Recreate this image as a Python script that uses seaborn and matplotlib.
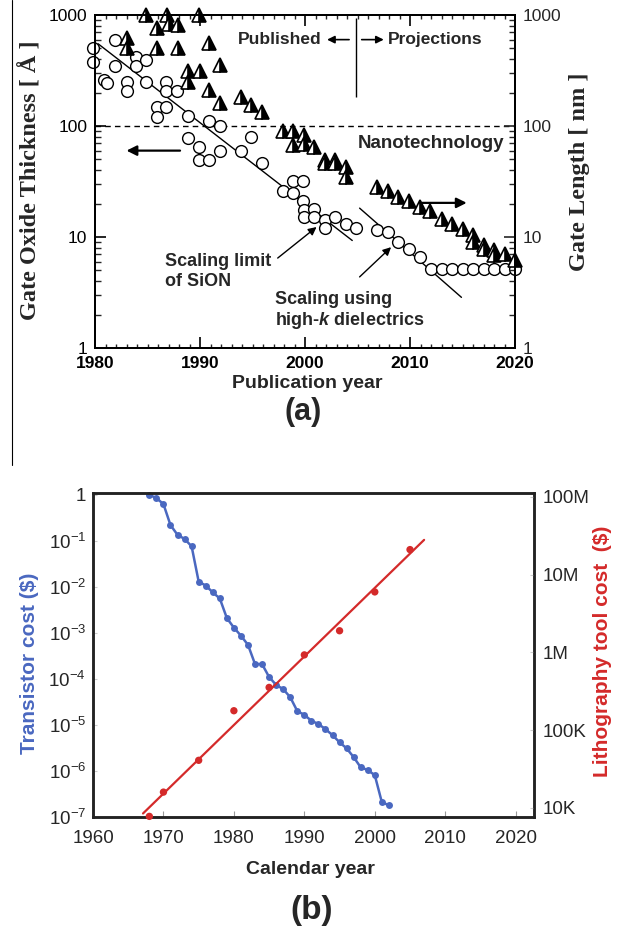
import numpy as np
import pandas as pd
import matplotlib
matplotlib.use("Agg")
import matplotlib.pyplot as plt
from matplotlib.lines import Line2D
from matplotlib.ticker import FixedLocator, MultipleLocator, LogLocator, NullFormatter, NullLocator
import seaborn as sns

# ---- (a) gate oxide thickness [A], open circles ----
oxide_year = [1979.8, 1979.8, 1980.9, 1981.1, 1981.9, 1981.9, 1983.0, 1983.0, 1983.9, 1983.9,
              1984.9, 1984.9, 1985.9, 1985.9, 1986.8, 1986.8, 1986.8, 1987.8, 1988.9, 1988.9,
              1989.9, 1989.9, 1990.9, 1990.9, 1991.9, 1991.9, 1993.9, 1994.9, 1995.9, 1997.9,
              1998.9, 1998.9, 1999.8, 1999.8, 1999.9, 1999.9, 2000.9, 2000.9, 2001.9, 2001.9,
              2002.9, 2003.9, 2004.9, 2006.9, 2007.9, 2008.9, 2009.9, 2010.95,
              2012, 2013, 2014, 2015, 2016, 2017, 2018, 2019, 2020]
oxide_thk = [500, 375, 258, 245, 600, 345, 250, 205, 415, 345,
             390, 250, 148, 120, 250, 205, 148, 205, 123, 78,
             65, 49, 112, 49, 100, 60, 60, 79, 46, 26,
             32, 25, 32, 21, 17.4, 15, 17.8, 15, 14.1, 12,
             15, 13.2, 12, 11.5, 11.2, 9.1, 7.8, 6.6,
             5.1, 5.1, 5.1, 5.1, 5.1, 5.1, 5.1, 5.1, 5.1]

# ---- (a) gate length [nm], half-filled triangles ----
gate_year = [1983.0, 1983.0, 1984.9, 1985.9, 1985.9, 1986.9, 1987.0, 1987.9, 1987.9, 1988.9,
             1988.9, 1989.9, 1990.0, 1990.9, 1990.9, 1991.9, 1991.9, 1993.9, 1994.9, 1995.9,
             1997.9, 1998.9, 1998.9, 1999.9, 1999.9, 2000.9, 2001.9, 2001.9, 2002.9, 2002.9,
             2003.9, 2003.9,
             2006.9, 2007.9, 2008.9, 2009.9, 2010.95, 2011.9, 2013, 2014, 2015, 2016,
             2016, 2017, 2017, 2018, 2018, 2019, 2020]
gate_len = [615, 500, 1000, 760, 500, 1000, 830, 810, 500, 310,
            250, 1000, 310, 560, 209, 355, 162, 182, 155, 135,
            91, 91, 68, 83, 69, 65, 49, 46, 49, 46,
            43, 35,
            28, 25.7, 22.9, 20.9, 18.6, 17, 14.5, 13.2, 11.7, 10.5,
            9.0, 8.5, 7.8, 7.6, 6.9, 7.1, 6.2]

# trend lines of panel (a)
sion_fit_year = [1980.3, 2004.5]
sion_fit_thk = [550, 9.3]
highk_fit_year = [2005.2, 2014.9]
highk_fit_thk = [18.2, 2.86]

top_yticks = [1, 10, 100, 1000]
top_ytick_labels = ["1", "10", "100", "1000"]
top_xticks = [1980, 1990, 2000, 2010, 2020]

# ---- (b) transistor cost ($) ----
trans_year = [1968, 1969, 1970, 1971, 1972, 1973, 1974, 1975, 1976, 1977,
              1978, 1979, 1980, 1981, 1982, 1983, 1984, 1985, 1986, 1987,
              1988, 1989, 1990, 1991, 1992, 1993, 1994, 1995, 1996, 1997,
              1998, 1999, 2000, 2001, 2002]
trans_cost = [1, 0.85, 0.63, 0.22, 0.135, 0.11, 0.076, 0.013, 0.0107, 0.0076,
              0.0056, 0.0021, 0.0013, 8.7e-4, 5.5e-4, 2.1e-4, 2.1e-4, 1.1e-4, 7.4e-5, 6.0e-5,
              4.0e-5, 2.0e-5, 1.66e-5, 1.23e-5, 1.05e-5, 8.1e-6, 6.0e-6, 4.2e-6, 3.1e-6, 2.0e-6,
              1.2e-6, 1.05e-6, 8.1e-7, 2.1e-7, 1.8e-7]

# ---- (b) lithography tool cost ($) ----
litho_year = [1968, 1970, 1975, 1980, 1985, 1990, 1995, 2000, 2005]
litho_cost = [7800, 16000, 41000, 178000, 355000, 930000, 1.9e6, 6.0e6, 2.1e7]
litho_fit_year = [1967.1, 2007]
litho_fit_cost = [8500, 2.8e7]

trans_yticks = [1e-7, 1e-6, 1e-5, 1e-4, 1e-3, 1e-2, 1e-1, 1]
trans_ytick_labels = [r"$10^{-7}$", r"$10^{-6}$", r"$10^{-5}$", r"$10^{-4}$",
                      r"$10^{-3}$", r"$10^{-2}$", r"$10^{-1}$", "1"]
litho_yticks = [1e4, 1e5, 1e6, 1e7, 1e8]
litho_ytick_labels = ["10K", "100K", "1M", "10M", "100M"]
bottom_xticks = [1960, 1970, 1980, 1990, 2000, 2010, 2020]

blue = "#4a68c0"
red = "#d42a2a"

sns.set_theme(style="ticks")
plt.rcParams["font.family"] = ["Liberation Sans", "DejaVu Sans"]
plt.rcParams["mathtext.fontset"] = "custom"
plt.rcParams["mathtext.rm"] = "Liberation Sans"
plt.rcParams["mathtext.it"] = "Liberation Sans:italic:bold"
plt.rcParams["mathtext.default"] = "regular"

fig = plt.figure(figsize=(6.26, 9.30), dpi=100)

# ================= panel (a) =================
ax = fig.add_axes([95 / 626, 1 - 348 / 930, 420 / 626, 333 / 930])
ax.set_yscale("log")
ax.set_xlim(1980, 2020)
ax.set_ylim(1, 1000)

ax.axhline(100, color="black", lw=1, ls=(0, (4, 3)), zorder=1)
sns.lineplot(x=sion_fit_year, y=sion_fit_thk, ax=ax, color="black", lw=1)
sns.lineplot(x=highk_fit_year, y=highk_fit_thk, ax=ax, color="black", lw=1)
sns.scatterplot(x=oxide_year, y=oxide_thk, ax=ax, color="white", edgecolor="black",
                s=72, linewidth=1, zorder=3, clip_on=False)

ax2 = ax.twinx()
ax2.set_yscale("log")
ax2.set_ylim(1, 1000)
sns.lineplot(x=gate_year, y=gate_len, ax=ax2, estimator=None, sort=False,
             linestyle="", marker="^", markersize=10.5, fillstyle="right",
             color="black", markerfacecolor="black", markerfacecoloralt="white",
             markeredgecolor="black", markeredgewidth=1.2, clip_on=False)

for a in (ax, ax2):
    for s in a.spines.values():
        s.set_linewidth(1.4)
        s.set_color("black")

ax.xaxis.set_major_locator(FixedLocator(top_xticks))
ax.xaxis.set_minor_locator(MultipleLocator(1))
ax.set_xticklabels([str(t) for t in top_xticks], fontweight="bold", fontsize=12.5)
ax.yaxis.set_major_locator(FixedLocator(top_yticks))
ax.set_yticklabels(top_ytick_labels, fontsize=12.5)
ax.yaxis.set_minor_locator(LogLocator(base=10, subs=np.arange(2, 10)))
ax.yaxis.set_minor_formatter(NullFormatter())
ax.tick_params(which="major", direction="in", length=8, width=1.2, top=True, colors="black")
ax.tick_params(which="minor", direction="in", length=4, width=1, top=True)
ax.tick_params(axis="x", which="major", pad=5.5)
ax.tick_params(axis="x", which="minor", length=3)
ax.tick_params(axis="y", which="major", pad=5.5)

ax2.yaxis.set_major_locator(FixedLocator(top_yticks))
ax2.set_yticklabels(top_ytick_labels, fontsize=12.5)
ax2.yaxis.set_minor_locator(LogLocator(base=10, subs=np.arange(2, 10)))
ax2.yaxis.set_minor_formatter(NullFormatter())
ax2.tick_params(which="major", direction="in", length=8, width=1.2, pad=5.5)
ax2.tick_params(which="minor", direction="in", length=4, width=1)
ax.set_xlabel("")
ax.set_ylabel("")
ax2.set_ylabel("")

# annotations
arrow_small = dict(arrowstyle="-|>", color="black", lw=1.2, mutation_scale=11, shrinkA=0, shrinkB=0)
arrow_big = dict(arrowstyle="-|>", color="black", lw=1.6, mutation_scale=15, shrinkA=0, shrinkB=0)
ax.text(2001.6, 600, "Published", ha="right", va="center", fontsize=12.5, fontweight="bold")
ax.annotate("", xy=(2002.1, 600), xytext=(2004.2, 600), arrowprops=arrow_small)
ax.vlines(2004.9, 182, 935, color="black", lw=1)
ax.annotate("", xy=(2007.5, 600), xytext=(2005.4, 600), arrowprops=arrow_small)
ax.text(2007.9, 600, "Projections", ha="left", va="center", fontsize=12.5, fontweight="bold")
ax.text(2019.0, 70, "Nanotechnology", ha="right", va="center", fontsize=13.5, fontweight="bold")
ax.annotate("", xy=(1983.0, 60), xytext=(1988.1, 60), arrowprops=arrow_big)
ax.annotate("", xy=(2015.4, 20.3), xytext=(2011.0, 20.3), arrowprops=arrow_big)
ax.text(1986.7, 4.9, "Scaling limit\nof SiON", ha="left", va="center", fontsize=13,
        fontweight="bold", linespacing=1.2)
ax.annotate("", xy=(2001.1, 12.3), xytext=(1997.4, 6.46),
            arrowprops=dict(arrowstyle="-|>", color="black", lw=1, mutation_scale=12, shrinkA=0, shrinkB=0))
ax.text(1997.1, 2.15, "Scaling using\nhigh-$\\mathit{k}$ dielectrics", ha="left", va="center",
        fontsize=13, fontweight="bold", linespacing=1.15)
ax.annotate("", xy=(2008.2, 8.1), xytext=(2005.2, 4.37),
            arrowprops=dict(arrowstyle="-|>", color="black", lw=1, mutation_scale=12, shrinkA=0, shrinkB=0))

fig.text(30 / 626, 1 - 180 / 930, "Gate Oxide Thickness [ Å ]", rotation=90, ha="center", va="center",
         fontsize=17.5, fontweight="bold", family=["Liberation Serif"])
fig.text(580 / 626, 1 - 172 / 930, "Gate Length [ nm ]", rotation=90, ha="center", va="center",
         fontsize=17.5, fontweight="bold", family=["Liberation Serif"])
fig.text(307 / 626, 1 - 383 / 930, "Publication year", ha="center", va="center", fontsize=14, fontweight="bold")
fig.text(303 / 626, 1 - 412 / 930, "(a)", ha="center", va="center", fontsize=22, fontweight="bold")
fig.add_artist(Line2D([12 / 626, 12 / 626], [1.0, 1 - 465 / 930], color="black", lw=0.8))

# ================= panel (b) =================
bx = fig.add_axes([93 / 626, 1 - 817 / 930, 441 / 626, 324 / 930])
bx.set_yscale("log")
bx.set_xlim(1960, 2022.6)
bx.set_ylim(1e-7, 10 ** 0.04)
sns.lineplot(x=trans_year, y=trans_cost, ax=bx, estimator=None, color=blue, lw=1.8,
             marker="o", markersize=5, markeredgewidth=0, clip_on=False)

bx2 = bx.twinx()
bx2.set_yscale("log")
bx2.set_ylim(10 ** 3.884, 10 ** 8.05)
sns.lineplot(x=litho_fit_year, y=litho_fit_cost, ax=bx2, color=red, lw=1.6)
sns.scatterplot(x=litho_year, y=litho_cost, ax=bx2, color=red, s=28, edgecolor="none",
                zorder=3, clip_on=False)

for a in (bx, bx2):
    for s in a.spines.values():
        s.set_linewidth(1.8)
        s.set_color("#222222")

bx.xaxis.set_major_locator(FixedLocator(bottom_xticks))
bx.set_xticklabels([str(t) for t in bottom_xticks], fontsize=13.5)
bx.yaxis.set_major_locator(FixedLocator(trans_yticks))
bx.set_yticklabels(trans_ytick_labels, fontsize=13.5)
bx.yaxis.set_minor_locator(NullLocator())
bx.tick_params(axis="x", direction="in", length=4, width=0.8, color="#999999", pad=9)
bx.tick_params(axis="y", direction="in", length=3, width=0.8, color="#cccccc", pad=5)

bx2.yaxis.set_major_locator(FixedLocator(litho_yticks))
bx2.set_yticklabels(litho_ytick_labels, fontsize=13.5)
bx2.yaxis.set_minor_locator(NullLocator())
bx2.tick_params(axis="y", direction="in", length=3, width=0.8, color="#cccccc", pad=6)
bx.set_xlabel("")
bx.set_ylabel("")
bx2.set_ylabel("")

fig.text(30 / 626, 1 - 663 / 930, "Transistor cost ($)", rotation=90, ha="center", va="center",
         fontsize=15, fontweight="bold", color=blue)
fig.text(603 / 626, 1 - 651 / 930, "Lithography tool cost  ($)", rotation=90, ha="center", va="center",
         fontsize=15, fontweight="bold", color=red)
fig.text(310 / 626, 1 - 870 / 930, "Calendar year", ha="center", va="center", fontsize=14, fontweight="bold")
fig.text(312 / 626, 1 - 910 / 930, "(b)", ha="center", va="center", fontsize=24, fontweight="bold")

fig.savefig("out.png", dpi=100)
